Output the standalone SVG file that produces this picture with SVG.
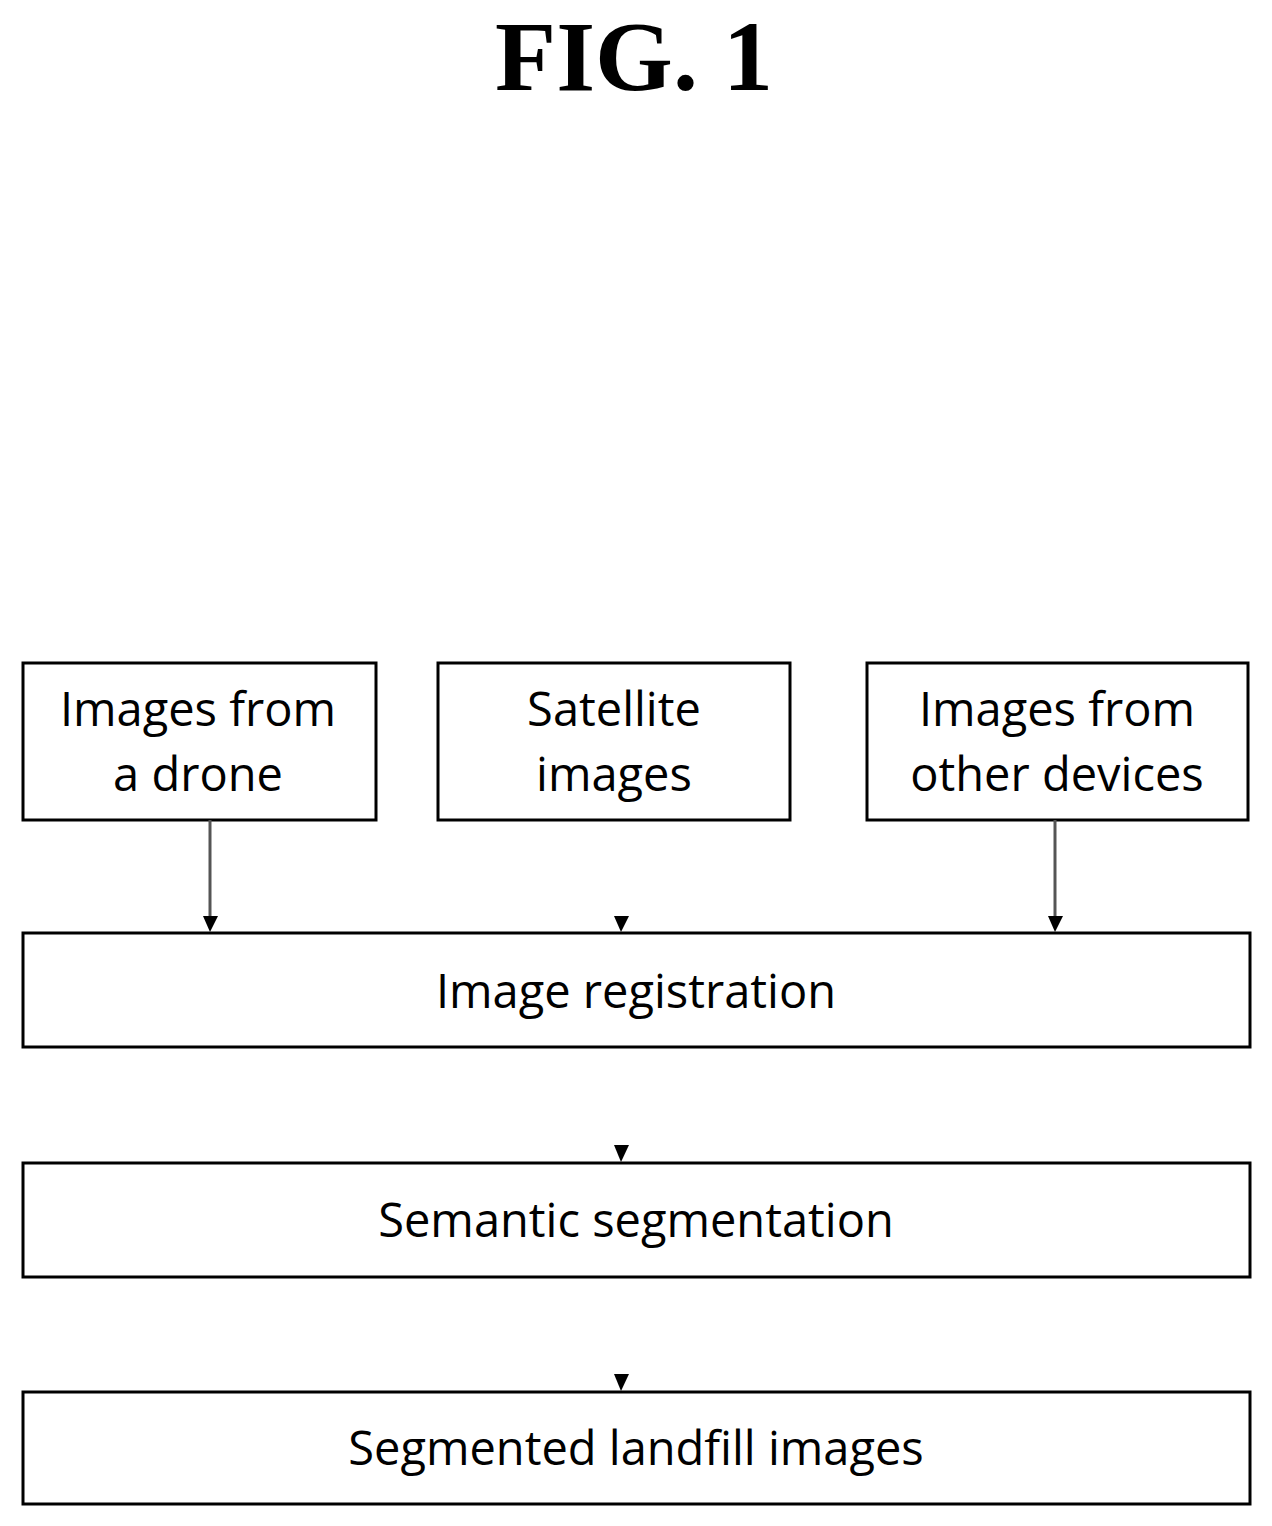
<svg xmlns="http://www.w3.org/2000/svg" width="1272" height="1526" viewBox="0 0 1272 1526">
<style>
.b{fill:#fff;stroke:#000;stroke-width:3}
.t{font-family:"Open Sans","Liberation Sans",sans-serif;font-size:47px;text-anchor:middle;fill:#000}
.c{stroke:#555;stroke-width:3;fill:none}
.h{fill:#000}
</style>
<rect width="1272" height="1526" fill="#fff"/>
<text x="634" y="90" font-family="Liberation Serif,serif" font-weight="bold" font-size="100" text-anchor="middle">FIG. 1</text>
<g id="drone"><rect class="b" x="23" y="663" width="353" height="157"/><text class="t" x="198" y="726">Images from</text><text class="t" x="198" y="791">a drone</text></g>
<g id="satellite"><rect class="b" x="438" y="663" width="352" height="157"/><text class="t" x="614" y="726">Satellite</text><text class="t" x="614" y="791">images</text></g>
<g id="other"><rect class="b" x="867" y="663" width="381" height="157"/><text class="t" x="1057" y="726">Images from</text><text class="t" x="1057" y="791">other devices</text></g>
<g id="registration"><rect class="b" x="23" y="933" width="1227" height="114"/><text class="t" x="636" y="1008">Image registration</text></g>
<g id="semantic"><rect class="b" x="23" y="1163" width="1227" height="114"/><text class="t" x="636" y="1237">Semantic segmentation</text></g>
<g id="segmented"><rect class="b" x="23" y="1392" width="1227" height="112"/><text class="t" x="636" y="1465">Segmented landfill images</text></g>
<g id="connectors">
<line class="c" x1="210" y1="820" x2="210" y2="918"/>
<line class="c" x1="1055" y1="820" x2="1055" y2="918"/>
<path class="h" d="M203,916 L218,916 L210,932 Z"/>
<path class="h" d="M614,916 L629,916 L621,932 Z"/>
<path class="h" d="M1048,916 L1063,916 L1055,932 Z"/>
<path class="h" d="M614,1145 L629,1145 L621,1162 Z"/>
<path class="h" d="M614,1374 L629,1374 L621,1391 Z"/>
</g>
</svg>
